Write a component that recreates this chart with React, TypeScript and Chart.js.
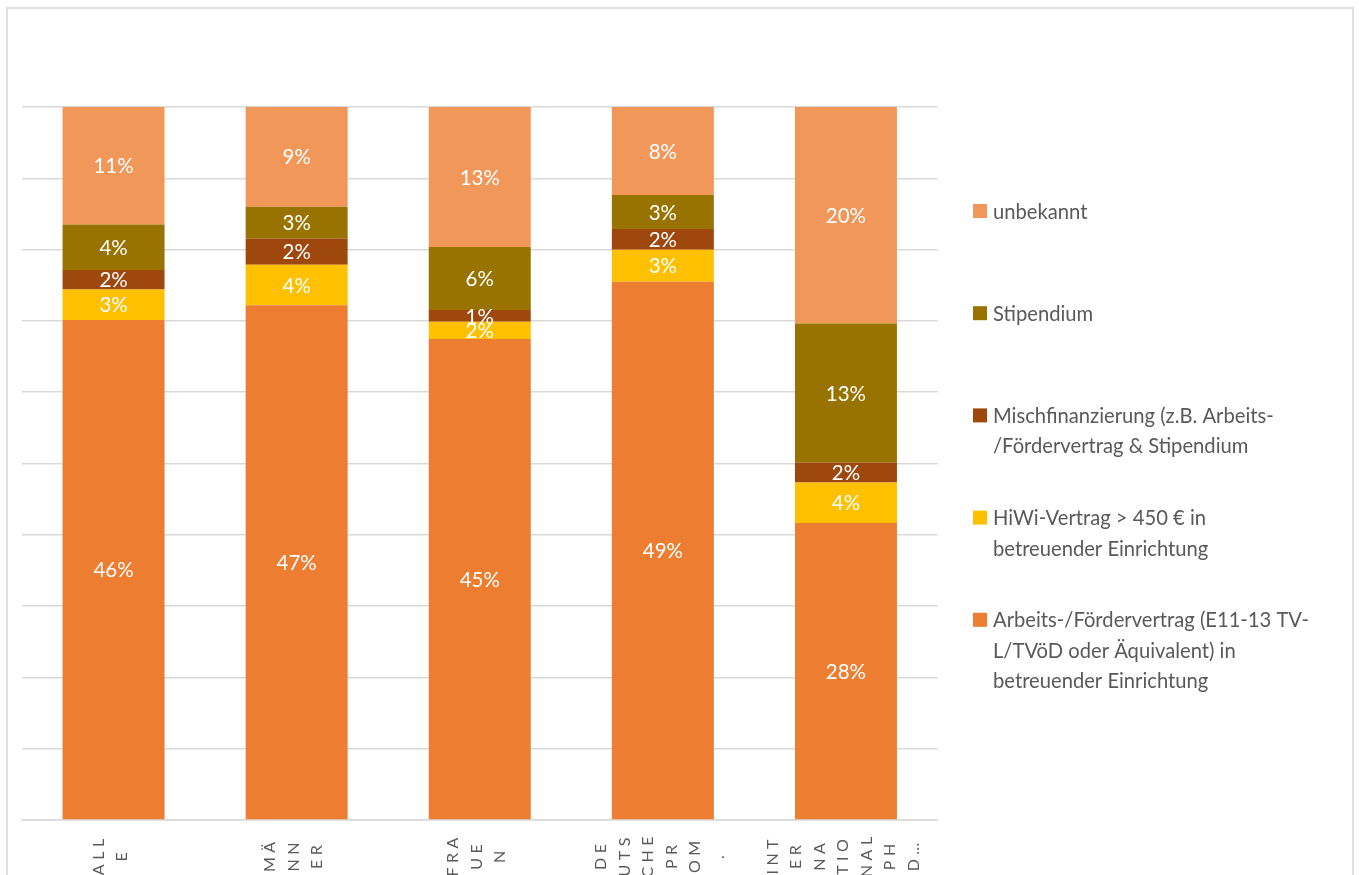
import { useEffect, useRef } from "react";
import { Chart, registerables } from "chart.js";

Chart.register(...registerables);

// Category tick labels (as wrapped in the original)
const categoryLines: string[][] = [
  ["ALL", "E"],
  ["MÄ", "NN", "ER"],
  ["FRA", "UE", "N"],
  ["DE", "UTS", "CHE", "PR", "OM", "."],
  ["INT", "ER", "NA", "TIO", "NAL", "PH", "D…"],
];

// Series values (% of respondents)
const arbeits = [46.0, 47.0, 45.0, 49.0, 28.0];
const hiwi = [2.8, 3.7, 1.6, 2.9, 3.8];
const misch = [1.8, 2.4, 1.1, 1.9, 1.9];
const stipendium = [4.2, 2.9, 5.9, 3.1, 13.1];
const unbekannt = [10.8, 9.1, 13.1, 8.0, 20.4];

// Series names (legend lines)
const arbeitsName = ["Arbeits-/Fördervertrag (E11-13 TV-", "L/TVöD oder Äquivalent) in", "betreuender Einrichtung"];
const hiwiName = ["HiWi-Vertrag > 450 € in", "betreuender Einrichtung"];
const mischName = ["Mischfinanzierung (z.B. Arbeits-", "/Fördervertrag & Stipendium"];
const stipendiumName = ["Stipendium"];
const unbekanntName = ["unbekannt"];

const colors = {
  arbeits: "#ED7D31",
  hiwi: "#FFC000",
  misch: "#9E480E",
  stipendium: "#997300",
  unbekannt: "#F1975A",
};

const seriesList = [
  { values: arbeits, name: arbeitsName, color: colors.arbeits },
  { values: hiwi, name: hiwiName, color: colors.hiwi },
  { values: misch, name: mischName, color: colors.misch },
  { values: stipendium, name: stipendiumName, color: colors.stipendium },
  { values: unbekannt, name: unbekanntName, color: colors.unbekannt },
];

const TEXT_GRAY = "#595959";
const GRID_GRAY = "#d9d9d9";

const overlayPlugin = {
  id: "overlay",
  afterDatasetsDraw(chart: any) {
    const ctx: CanvasRenderingContext2D = chart.ctx;
    const area = chart.chartArea;
    ctx.save();
    // data labels
    ctx.font = "20.5px Lato";
    ctx.fillStyle = "#ffffff";
    ctx.textAlign = "center";
    ctx.textBaseline = "middle";
    chart.data.datasets.forEach((ds: any, di: number) => {
      const meta = chart.getDatasetMeta(di);
      meta.data.forEach((bar: any, i: number) => {
        const p = bar.getProps(["x", "y", "base"], true);
        ctx.fillText(Math.round(ds.rawValues[i]) + "%", p.x, (p.y + p.base) / 2 + 1);
      });
    });
    ctx.restore();

    // category labels (rotated, letter-spaced)
    const xs = chart.scales.x;
    ctx.save();
    ctx.font = "16px Lato";
    ctx.fillStyle = TEXT_GRAY;
    ctx.textAlign = "center";
    ctx.textBaseline = "middle";
    (ctx as any).letterSpacing = "4.5px";
    categoryLines.forEach((lines, i) => {
      const cx = xs.getPixelForValue(i) - 3;
      lines.forEach((t, j) => {
        const lx = cx + (j - (lines.length - 1) / 2) * 23.5;
        ctx.save();
        ctx.translate(lx, area.bottom + 37);
        ctx.rotate(-Math.PI / 2);
        ctx.fillText(t, 2.25, 0);
        ctx.restore();
      });
    });
    ctx.restore();

    // legend (reverse order, top = last series)
    ctx.save();
    ctx.font = "20.2px Lato";
    ctx.textAlign = "left";
    ctx.textBaseline = "middle";
    const boxX = area.right + 35.5;
    const textX = boxX + 20;
    const startY = area.top + 104;
    const step = 102.2;
    const lineH = 30.5;
    const dsList = chart.data.datasets.slice().reverse();
    dsList.forEach((ds: any, k: number) => {
      const y0 = startY + k * step;
      ctx.fillStyle = ds.backgroundColor;
      ctx.fillRect(boxX, y0 - 7, 14, 14);
      ctx.fillStyle = TEXT_GRAY;
      (ds.legendLines as string[]).forEach((line, li) => {
        ctx.fillText(line, textX, y0 + li * lineH + 1);
      });
    });
    ctx.restore();
  },
};

export default function App() {
  const canvasRef = useRef<HTMLCanvasElement | null>(null);

  useEffect(() => {
    const canvas = canvasRef.current;
    if (!canvas) return;
    const totals = categoryLines.map((_, i) =>
      seriesList.reduce((s, ser) => s + ser.values[i], 0)
    );
    const chart = new Chart(canvas, {
      type: "bar",
      data: {
        labels: categoryLines.map((l) => l.join("")),
        datasets: seriesList.map((ser) => ({
          label: ser.name.join(" "),
          data: ser.values.map((v, i) => (v / totals[i]) * 100),
          rawValues: ser.values,
          legendLines: ser.name,
          backgroundColor: ser.color,
          borderWidth: 0,
          barPercentage: 0.557,
          categoryPercentage: 1,
        })) as any,
      },
      options: {
        responsive: false,
        maintainAspectRatio: false,
        animation: false,
        layout: { padding: { left: 14, right: 414.5, top: 99, bottom: 55 } },
        plugins: {
          legend: { display: false },
          tooltip: { enabled: false },
          title: { display: false },
        },
        scales: {
          x: {
            stacked: true,
            ticks: { display: false },
            grid: { display: false, drawTicks: false },
            border: { display: true, color: GRID_GRAY, width: 1.5 },
          },
          y: {
            stacked: true,
            min: 0,
            max: 100,
            ticks: { display: false, stepSize: 10 },
            grid: { color: GRID_GRAY, lineWidth: 1.5, drawTicks: false },
            border: { display: false },
          },
        },
      },
      plugins: [overlayPlugin],
    });
    return () => chart.destroy();
  }, []);

  return (
    <div
      style={{
        position: "fixed",
        left: 6,
        top: 7,
        width: 1344,
        height: 880,
        border: "2px solid #e0e0e0",
        borderBottom: "none",
        background: "#ffffff",
        overflow: "hidden",
      }}
    >
      <canvas ref={canvasRef} width={1344} height={867} style={{ display: "block", width: 1344, height: 867, marginTop: -1 }} />
    </div>
  );
}
